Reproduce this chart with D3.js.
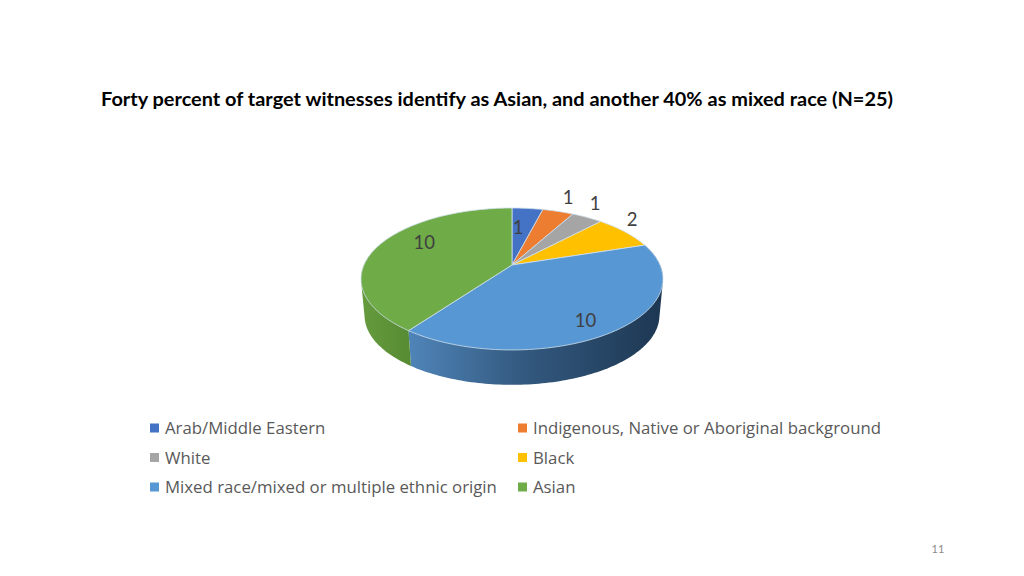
<!DOCTYPE html>
<html>
<head>
<meta charset="utf-8">
<script src="https://cdn.jsdelivr.net/npm/d3@7"></script>
<style>
  html, body { margin: 0; padding: 0; background: #fff; }
</style>
</head>
<body>
<div id="chart"></div>
<script>
const chartTitle = 'Forty percent of target witnesses identify as Asian, and another 40% as mixed race (N=25)';
const categories = [
  'Arab/Middle Eastern',
  'Indigenous, Native or Aboriginal background',
  'White',
  'Black',
  'Mixed race/mixed or multiple ethnic origin',
  'Asian'
];
const counts = [1, 1, 1, 2, 10, 10];
const pageNumber = '11';

const colors = ['#4472c4', '#ed7d31', '#a5a5a5', '#ffc000', '#5797d3', '#6fab46'];
// where each label sits relative to the middle of its slice's outer edge
const labelOffsets = [[-9.5, 19], [10, -14], [8, -14], [7, -13], [-30, -11], [45, -3]];

const width = 1024;
const height = 576;

const svg = d3.select('#chart').append('svg')
  .attr('width', width)
  .attr('height', height)
  .style('display', 'block');

const defs = svg.append('defs');

svg.append('text')
  .attr('x', 101)
  .attr('y', 106)
  .attr('font-family', 'Lato')
  .attr('font-weight', 700)
  .attr('font-size', 18.4)
  .attr('fill', '#000')
  .attr('textLength', 792)
  .attr('lengthAdjust', 'spacingAndGlyphs')
  .text(chartTitle);

// perspective view of the tilted disc, k pulls the centre above the ellipse middle
const k = 0.197;
function projector(cx, cy, a, b) {
  return (angle, r = 1) => {
    const u = r * Math.sin(angle);
    const v = -r * Math.cos(angle);
    const w = 1 - k * v;
    return [cx + a * u / w, cy + b * v / w];
  };
}
const topFace = projector(512, 265, 148, 68.2);
const bottomFace = projector(512, 302, 144.5, 66.5);

const pie = d3.pie().sort(null);
const slices = pie(counts);

function rim(project, start, end) {
  const steps = Math.max(2, Math.ceil((end - start) / 0.02));
  return d3.range(steps + 1).map(i => project(start + (end - start) * i / steps));
}

const line = d3.line();
const wallGroup = svg.append('g');
const topGroup = svg.append('g');

// side walls, only the front slices show them
const walls = [
  { index: 4, stops: [[0, '#4f84b8'], [0.45, '#33597f'], [1, '#1d3752']], x1: 410, x2: 663 },
  { index: 5, stops: [[0, '#659b3d'], [1, '#578b33']], x1: 361, x2: 412 }
];

walls.forEach(wall => {
  const d = slices[wall.index];
  const gradient = defs.append('linearGradient')
    .attr('id', `wall-${wall.index}`)
    .attr('gradientUnits', 'userSpaceOnUse')
    .attr('x1', wall.x1).attr('x2', wall.x2)
    .attr('y1', 0).attr('y2', 0);
  gradient.selectAll('stop').data(wall.stops).join('stop')
    .attr('offset', s => s[0])
    .attr('stop-color', s => s[1]);

  // the back of the green slice is hidden under the top face anyway
  const end = Math.min(d.endAngle, Math.PI * 5 / 3);
  // hull so the silhouette runs straight from the top rim to the bottom rim
  const hull = d3.polygonHull(rim(topFace, d.startAngle, end).concat(rim(bottomFace, d.startAngle, end)));
  wallGroup.append('path')
    .attr('d', line(hull) + 'Z')
    .attr('fill', `url(#wall-${wall.index})`);
});

topGroup.selectAll('path').data(slices).join('path')
  .attr('d', d => line([topFace(0, 0)].concat(rim(topFace, d.startAngle, d.endAngle))) + 'Z')
  .attr('fill', (d, i) => colors[i])
  .attr('stroke', '#cfe0ee')
  .attr('stroke-width', 0.8)
  .attr('stroke-linejoin', 'round');

svg.append('g').selectAll('text').data(slices).join('text')
  .attr('x', (d, i) => topFace((d.startAngle + d.endAngle) / 2)[0] + labelOffsets[i][0])
  .attr('y', (d, i) => topFace((d.startAngle + d.endAngle) / 2)[1] + labelOffsets[i][1])
  .attr('text-anchor', 'middle')
  .attr('dominant-baseline', 'central')
  .attr('font-family', 'Lato')
  .attr('font-size', 18.5)
  .attr('fill', '#404040')
  .text(d => d.value);

// legend, two columns filled row by row
const legendX = d3.scalePoint().domain([0, 1]).range([150, 518]);
const legendY = d3.scalePoint().domain([0, 1, 2]).range([428, 487]);

const legend = svg.append('g').selectAll('g').data(categories).join('g')
  .attr('transform', (d, i) => `translate(${legendX(i % 2)},${legendY(Math.floor(i / 2))})`);

legend.append('rect')
  .attr('x', 0)
  .attr('y', -4.5)
  .attr('width', 9)
  .attr('height', 9)
  .attr('fill', (d, i) => colors[i]);

legend.append('text')
  .attr('x', 15)
  .attr('y', -0.5)
  .attr('dominant-baseline', 'central')
  .attr('font-family', 'Open Sans')
  .attr('font-size', 16.8)
  .attr('fill', '#595959')
  .text(d => d);

svg.append('text')
  .attr('x', 938)
  .attr('y', 553)
  .attr('text-anchor', 'middle')
  .attr('font-family', 'Lato')
  .attr('font-size', 11)
  .attr('fill', '#8a8a8a')
  .text(pageNumber);
</script>
</body>
</html>
